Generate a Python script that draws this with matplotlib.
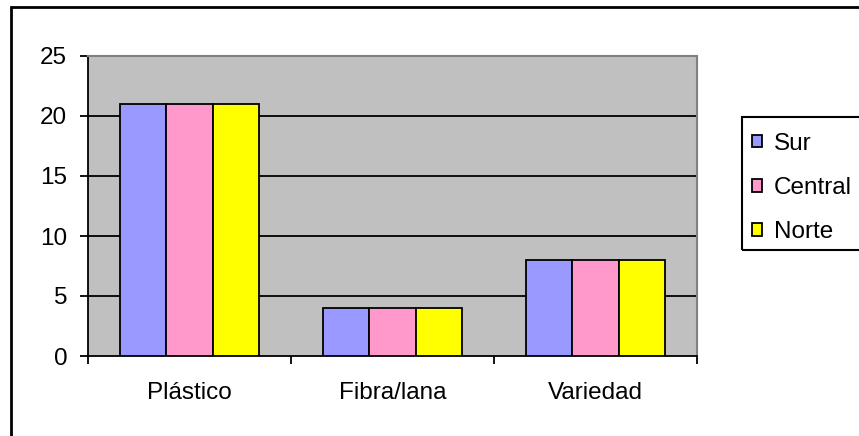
import matplotlib
matplotlib.use("Agg")
import matplotlib.pyplot as plt
from matplotlib.patches import Rectangle
import numpy as np

plt.rcParams['font.family'] = ['Liberation Sans', 'DejaVu Sans']

categories = ['Plástico', 'Fibra/lana', 'Variedad']
series_names = ['Sur', 'Central', 'Norte']
sur = [21, 4, 8]
central = [21, 4, 8]
norte = [21, 4, 8]
colors = ['#9999FF', '#FF99CC', '#FFFF00']
y_ticks = [0, 5, 10, 15, 20, 25]

fig = plt.figure(figsize=(8.59, 4.36), dpi=100)
ax = fig.add_axes([88/859, 1 - 356/436, (697 - 88)/859, (356 - 56)/436])
ax.set_facecolor('#C0C0C0')

x = np.arange(len(categories))
width = 0.227
for i, (vals, name) in enumerate(zip([sur, central, norte], series_names)):
    ax.bar(x + (i - 1) * width, vals, width, color=colors[i], edgecolor='black',
           linewidth=1.3, label=name, zorder=3)

ax.set_xlim(-0.5, 2.5)
ax.set_ylim(0, 25)
ax.set_yticks(y_ticks)
for yv in y_ticks[1:-1]:
    ax.axhline(yv, color='black', linewidth=1.3, zorder=1)

# category boundaries as tick marks, names in the middle
ax.set_xticks([-0.5, 0.5, 1.5, 2.5])
ax.set_xticklabels([])
ax.set_xticks(x, minor=True)
ax.set_xticklabels(categories, minor=True)
ax.tick_params(axis='x', which='major', direction='out', length=6, width=1.3)
ax.tick_params(axis='x', which='minor', length=0, pad=19, labelsize=17.5)
ax.tick_params(axis='y', direction='out', length=6, width=1.3, pad=9, labelsize=17.5)

ax.spines['left'].set_color('black')
ax.spines['bottom'].set_color('black')
ax.spines['left'].set_linewidth(1.3)
ax.spines['bottom'].set_linewidth(1.3)
ax.spines['top'].set_color('#808080')
ax.spines['right'].set_color('#808080')
ax.spines['top'].set_linewidth(1.5)
ax.spines['right'].set_linewidth(1.5)

leg = fig.legend(loc='upper left', bbox_to_anchor=(742/859, 1 - 123/436),
                 fontsize=17.5, frameon=False, borderaxespad=0,
                 handlelength=0.42, handleheight=0.42, handletextpad=0.5,
                 labelspacing=0.92, borderpad=0.4)
for h in leg.legend_handles:
    h.set_linewidth(1.3)

# legend box runs past the right edge of the picture
fig.patches.append(Rectangle((742/859, 1 - 250/436), 0.3, (250 - 117)/436,
                             transform=fig.transFigure, fill=False,
                             edgecolor='black', linewidth=1.5, clip_on=False))

# outer chart border, cropped on the right and bottom
fig.patches.append(Rectangle((11/859, -0.05), 0.2 + 1, 1 - 7/436 + 0.05,
                             transform=fig.transFigure, fill=False,
                             edgecolor='black', linewidth=2, clip_on=False))

fig.savefig('out.png', dpi=100)
